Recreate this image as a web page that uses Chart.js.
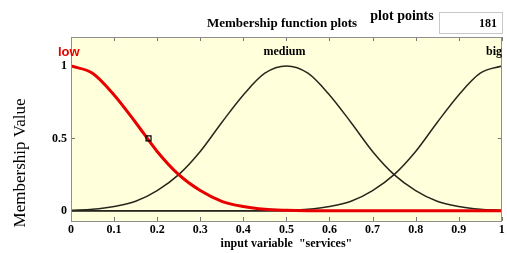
<!DOCTYPE html>
<html lang="en">
  <head>
    <meta charset="UTF-8">
    <title>Membership function plots</title>
    <script src="https://cdn.jsdelivr.net/npm/chart.js"></script>
    <style>
      body {
        margin: 0;
        padding: 0;
        background: #ffffff;
      }
      canvas {
        display: block;
      }
    </style>
  </head>
  <body>
    <canvas id="mfChart" width="507" height="253"></canvas>

    <script>
      // input variable "services", sampled every 0.05
      const xValues = [0, 0.05, 0.1, 0.15, 0.2, 0.25, 0.3, 0.35, 0.4, 0.45, 0.5,
                       0.55, 0.6, 0.65, 0.7, 0.75, 0.8, 0.85, 0.9, 0.95, 1];
      const lowValues = [1.00, 0.95, 0.80, 0.61, 0.41, 0.25, 0.14, 0.066, 0.03, 0.011, 0.004,
                         0.001, 0, 0, 0, 0, 0, 0, 0, 0, 0];
      const mediumValues = [0.004, 0.011, 0.03, 0.066, 0.14, 0.25, 0.41, 0.61, 0.80, 0.95, 1.00,
                            0.95, 0.80, 0.61, 0.41, 0.25, 0.14, 0.066, 0.03, 0.011, 0.004];
      const bigValues = [0, 0, 0, 0, 0, 0, 0, 0, 0, 0.001, 0.004,
                         0.011, 0.03, 0.066, 0.14, 0.25, 0.41, 0.61, 0.80, 0.95, 1.00];

      // selected point on the "low" curve
      const markerX = [0.18];
      const markerY = [0.5];

      const setNames = ['low', 'medium', 'big'];
      const setPeaks = [0, 0.5, 1];
      const yTickValues = [0, 0.5, 1];
      const plotPoints = '181';

      const toPoints = (ys) => xValues.map((x, i) => ({ x: x, y: ys[i] }));

      const bgColor = '#ffffdc';
      const frameColor = '#8f8f8f';
      const curveColor = '#26261c';
      const redColor = '#e80000';

      // background, frame, inward ticks, zero line
      const framePlugin = {
        id: 'framePlugin',
        beforeDatasetsDraw(chart) {
          const { ctx, chartArea: a, scales } = chart;
          ctx.save();
          ctx.fillStyle = bgColor;
          ctx.fillRect(a.left, a.top, a.right - a.left, a.bottom - a.top);

          // zero line
          const y0 = scales.y.getPixelForValue(0);
          ctx.strokeStyle = '#000';
          ctx.lineWidth = 1.2;
          ctx.beginPath();
          ctx.moveTo(a.left, y0);
          ctx.lineTo(a.right, y0);
          ctx.stroke();

          // inward tick marks
          ctx.strokeStyle = '#777';
          ctx.lineWidth = 1;
          ctx.beginPath();
          scales.x.ticks.forEach(t => {
            const px = Math.round(scales.x.getPixelForValue(t.value)) + 0.5;
            ctx.moveTo(px, a.top); ctx.lineTo(px, a.top + 4);
            ctx.moveTo(px, a.bottom); ctx.lineTo(px, a.bottom - 4);
          });
          scales.y.ticks.forEach(t => {
            const py = Math.round(scales.y.getPixelForValue(t.value)) + 0.5;
            ctx.moveTo(a.left, py); ctx.lineTo(a.left + 4, py);
            ctx.moveTo(a.right, py); ctx.lineTo(a.right - 4, py);
          });
          ctx.stroke();
          ctx.restore();
        },
        afterDatasetsDraw(chart) {
          const { ctx, chartArea: a } = chart;
          ctx.save();
          ctx.strokeStyle = frameColor;
          ctx.lineWidth = 1;
          ctx.strokeRect(Math.round(a.left) + 0.5, Math.round(a.top) + 0.5,
                         Math.round(a.right - a.left) - 1, Math.round(a.bottom - a.top));
          ctx.restore();
        }
      };

      // texts above the plot and the rotated y title
      const labelPlugin = {
        id: 'labelPlugin',
        afterDraw(chart) {
          const { ctx, scales } = chart;
          ctx.save();
          ctx.textBaseline = 'middle';

          // set names
          ctx.fillStyle = redColor;
          ctx.font = 'bold 13px "Liberation Sans", Arial, sans-serif';
          ctx.textAlign = 'left';
          ctx.fillText(setNames[0], 58, 52);

          ctx.fillStyle = '#000';
          ctx.font = 'bold 12px "Liberation Serif", "Times New Roman", serif';
          ctx.textAlign = 'center';
          ctx.fillText(setNames[1], scales.x.getPixelForValue(setPeaks[1]) - 2, 52);
          ctx.textAlign = 'left';
          ctx.fillText(setNames[2], 486, 52);

          // header
          ctx.font = 'bold 13px "Liberation Serif", "Times New Roman", serif';
          ctx.textAlign = 'center';
          ctx.fillText('Membership function plots', 282, 24);
          ctx.font = 'bold 14px "Liberation Serif", "Times New Roman", serif';
          ctx.fillText('plot points', 402, 16);

          ctx.fillStyle = '#fff';
          ctx.fillRect(439.5, 12.5, 63, 21);
          ctx.strokeStyle = '#c8c8c8';
          ctx.lineWidth = 1;
          ctx.strokeRect(439.5, 12.5, 63, 21);
          ctx.fillStyle = '#000';
          ctx.font = 'bold 12px "Liberation Serif", "Times New Roman", serif';
          ctx.textAlign = 'right';
          ctx.fillText(plotPoints, 497, 24);

          // y axis title
          ctx.translate(21, 163);
          ctx.rotate(-Math.PI / 2);
          ctx.textAlign = 'center';
          ctx.font = '17px "Liberation Serif", "Times New Roman", serif';
          ctx.fillText('Membership Value', 0, 0);
          ctx.restore();
        }
      };

      const serifBold = { family: '"Liberation Serif", "Times New Roman", serif', weight: 'bold', size: 12 };

      new Chart(document.getElementById('mfChart').getContext('2d'), {
        type: 'line',
        data: {
          datasets: [
            {
              label: 'low',
              data: toPoints(lowValues),
              borderColor: redColor,
              borderWidth: 3,
              cubicInterpolationMode: 'monotone',
              pointRadius: 0,
              order: 1,
            },
            {
              label: 'medium',
              data: toPoints(mediumValues),
              borderColor: curveColor,
              borderWidth: 1.5,
              cubicInterpolationMode: 'monotone',
              pointRadius: 0,
              order: 2,
            },
            {
              label: 'big',
              data: toPoints(bigValues),
              borderColor: curveColor,
              borderWidth: 1.5,
              cubicInterpolationMode: 'monotone',
              pointRadius: 0,
              order: 3,
            },
            {
              label: 'marker',
              type: 'scatter',
              data: markerX.map((x, i) => ({ x: x, y: markerY[i] })),
              pointStyle: 'rect',
              pointRadius: 3.5,
              borderColor: '#000',
              borderWidth: 1.2,
              backgroundColor: 'rgba(0,0,0,0)',
              order: 0,
            },
          ],
        },
        options: {
          responsive: false,
          devicePixelRatio: 1,
          animation: false,
          layout: { padding: { top: 37, right: 4, left: 0, bottom: 0 } },
          plugins: {
            legend: { display: false },
            tooltip: { enabled: false },
          },
          scales: {
            x: {
              type: 'linear',
              min: 0,
              max: 1,
              ticks: {
                stepSize: 0.1,
                color: '#000',
                font: serifBold,
                padding: 2,
                maxRotation: 0,
                callback: (v) => (v === 0 || v === 1) ? String(v) : v.toFixed(1),
              },
              grid: { display: false, drawTicks: false },
              border: { display: false },
              title: {
                display: true,
                text: 'input variable  "services"',
                color: '#000',
                font: serifBold,
                padding: { top: 0, bottom: 2 },
              },
              afterFit(scale) { scale.height = 32; },
            },
            y: {
              min: -0.07,
              max: 1.2,
              afterBuildTicks(scale) {
                scale.ticks = yTickValues.map(v => ({ value: v }));
              },
              ticks: {
                color: '#000',
                font: serifBold,
                padding: 4,
                callback: (v) => String(v),
              },
              grid: { display: false, drawTicks: false },
              border: { display: false },
              afterFit(scale) { scale.width = 71; },
            },
          },
        },
        plugins: [framePlugin, labelPlugin],
      });
    </script>
  </body>
</html>
